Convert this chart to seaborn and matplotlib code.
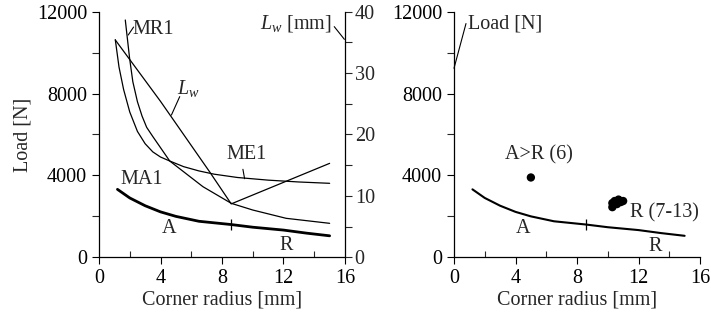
import numpy as np
import pandas as pd
import matplotlib
matplotlib.use('Agg')
import matplotlib.pyplot as plt
import seaborn as sns
from matplotlib.ticker import MultipleLocator

# values: corner radius [mm] -> load [N]
ma1_r = [1.2, 2.0, 3.0, 4.0, 5.0, 6.5, 8.6, 10.0, 12.0, 13.5, 15.0]
ma1_load = [3320, 2900, 2520, 2220, 2000, 1760, 1600, 1470, 1330, 1180, 1050]

me1_r = [1.06, 1.3, 1.6, 2.0, 2.5, 3.0, 3.5, 4.0, 4.6, 5.5, 6.5, 7.5, 9.0, 11.0, 13.0, 15.0]
me1_load = [10630, 9300, 8200, 7100, 6150, 5550, 5150, 4900, 4705, 4430, 4220, 4060, 3900, 3770, 3680, 3615]

mr1_r = [1.71, 1.99, 2.2, 2.5, 2.8, 3.1, 3.5, 4.6, 6.76, 8.6, 10.0, 12.17, 15.0]
mr1_load = [11594, 9723, 8580, 7600, 6900, 6350, 5900, 4705, 3450, 2638, 2310, 1905, 1660]

# Lw [mm] on the right axis
lw_r = [1.06, 4.0, 7.2, 8.6, 15.0]
lw_mm = [35.4, 25.4, 13.9, 8.7, 15.3]

# test points, right panel
ar_r = [5.0]
ar_load = [3900]
r_r = [10.3, 10.3, 10.45, 10.7, 10.85, 11.0, 10.6]
r_load = [2450, 2650, 2750, 2820, 2700, 2750, 2600]

transition_r = 8.6

sns.set_style('ticks')
plt.rcParams['font.family'] = ['Liberation Serif', 'DejaVu Serif']
plt.rcParams['mathtext.fontset'] = 'custom'
plt.rcParams['mathtext.rm'] = 'Liberation Serif'
plt.rcParams['mathtext.it'] = 'Liberation Serif:italic'
plt.rcParams['font.size'] = 14.5

fig = plt.figure(figsize=(7.11, 3.23), dpi=100)
ax1 = fig.add_axes([99/711, 0.2034, 246/711, 0.7604])
ax3 = fig.add_axes([454/711, 0.2034, 246/711, 0.7604])
ax2 = ax1.twinx()

def style_load_axis(ax):
    ax.set_xlim(0, 16)
    ax.set_ylim(0, 12000)
    ax.xaxis.set_major_locator(MultipleLocator(4))
    ax.xaxis.set_minor_locator(MultipleLocator(2))
    ax.yaxis.set_major_locator(MultipleLocator(4000))
    ax.yaxis.set_minor_locator(MultipleLocator(2000))
    ax.tick_params(axis='both', which='major', direction='out', length=5, width=0.8, labelsize=14.5, colors='black')
    ax.tick_params(axis='x', which='minor', direction='in', length=4, width=0.8)
    ax.tick_params(axis='y', which='minor', direction='out', length=5, width=0.8)
    for s in ['top', 'right']:
        ax.spines[s].set_visible(False)
    for s in ['left', 'bottom']:
        ax.spines[s].set_linewidth(0.9)
        ax.spines[s].set_color('black')
    ax.set_xlabel('Corner radius [mm]', fontsize=14.5, labelpad=2)

# left panel
style_load_axis(ax1)
sns.lineplot(x=ma1_r, y=ma1_load, ax=ax1, color='black', lw=2.0, sort=False, estimator=None)
sns.lineplot(x=me1_r, y=me1_load, ax=ax1, color='black', lw=0.9, sort=False, estimator=None)
sns.lineplot(x=mr1_r, y=mr1_load, ax=ax1, color='black', lw=0.9, sort=False, estimator=None)
ax1.set_ylabel('Load [N]', fontsize=14.5, labelpad=3)
ma1_at = np.interp(transition_r, ma1_r, ma1_load)
ax1.vlines(transition_r, ma1_at - 250, ma1_at + 250, color='black', lw=0.9)

sns.lineplot(x=lw_r, y=lw_mm, ax=ax2, color='black', lw=0.9, sort=False, estimator=None)
ax2.set_ylim(0, 40)
ax2.yaxis.set_major_locator(MultipleLocator(10))
ax2.yaxis.set_minor_locator(MultipleLocator(5))
ax2.tick_params(axis='y', which='both', direction='out', length=5, width=0.8, labelsize=14.5, pad=2)
ax2.set_ylabel('')
for s in ['top', 'left', 'bottom']:
    ax2.spines[s].set_visible(False)
ax2.spines['right'].set_linewidth(0.9)
ax2.spines['right'].set_color('black')

ax1.text(3.5, 11150, 'MR1', ha='center', va='center')
ax1.plot([1.9, 2.25], [10860, 11250], color='black', lw=0.8)
ax1.text(5.8, 8270, '$L_w$', ha='center', va='center')
ax1.plot([4.71, 5.25], [6950, 7850], color='black', lw=0.8)
ax1.text(9.6, 5000, 'ME1', ha='center', va='center')
ax1.plot([9.36, 9.47], [4300, 3840], color='black', lw=0.8)
ax1.text(2.75, 3800, 'MA1', ha='center', va='center')
ax1.text(4.55, 1430, 'A', ha='center', va='center')
ax1.text(12.2, 600, 'R', ha='center', va='center')
ax1.text(12.8, 11400, '$L_w$ [mm]', ha='center', va='center')
ax1.plot([15.3, 15.96], [11270, 10650], color='black', lw=0.8, clip_on=False)

# right panel
style_load_axis(ax3)
sns.lineplot(x=ma1_r, y=ma1_load, ax=ax3, color='black', lw=1.5, sort=False, estimator=None)
ax3.vlines(transition_r, ma1_at - 250, ma1_at + 250, color='black', lw=0.9)
sns.scatterplot(x=ar_r, y=ar_load, ax=ax3, color='black', s=36, edgecolor='none')
sns.scatterplot(x=r_r, y=r_load, ax=ax3, color='black', s=36, edgecolor='none')
ax3.set_ylabel('')
ax3.text(3.3, 11400, 'Load [N]', ha='center', va='center')
ax3.plot([0.78, 0.0], [11420, 9235], color='black', lw=0.8, clip_on=False)
ax3.text(5.5, 5000, 'A>R (6)', ha='center', va='center')
ax3.text(13.7, 2190, 'R (7-13)', ha='center', va='center')
ax3.text(4.5, 1430, 'A', ha='center', va='center')
ax3.text(13.1, 530, 'R', ha='center', va='center')

fig.savefig('out.png', dpi=100)
